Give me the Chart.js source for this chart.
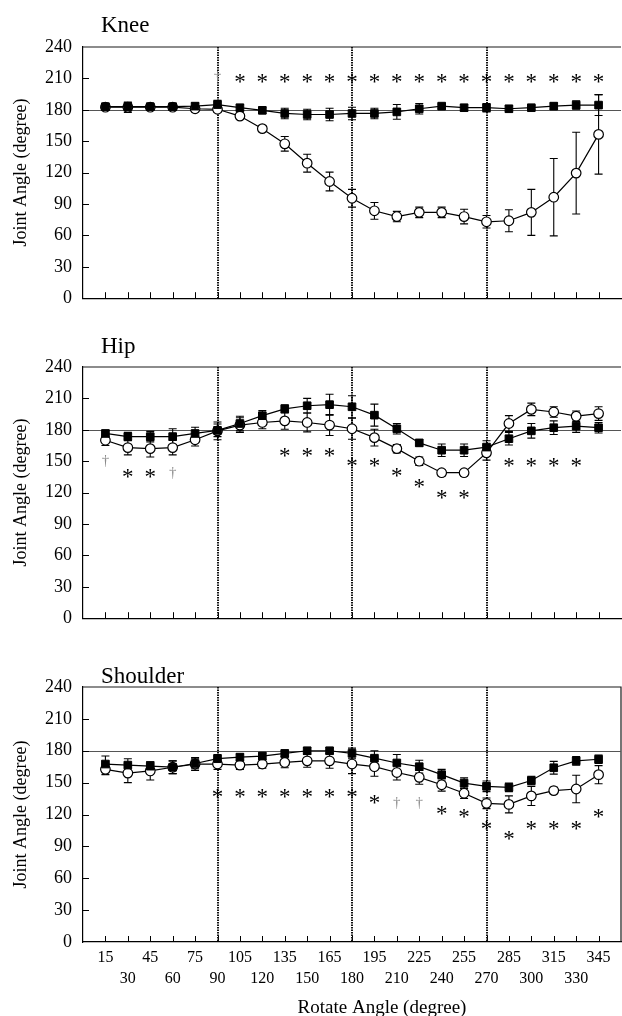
<!DOCTYPE html>
<html>
<head>
<meta charset="utf-8">
<script src="https://cdn.jsdelivr.net/npm/chart.js@4/dist/chart.umd.min.js"></script>
<style>
  html, body { margin: 0; padding: 0; background: #fff; overflow: hidden; }
  canvas { position: absolute; left: 0; display: block; }
</style>
</head>
<body>
<canvas id="knee" width="622" height="320" style="top:0px"></canvas>
<canvas id="hip" width="622" height="320" style="top:320px"></canvas>
<canvas id="shoulder" width="622" height="376" style="top:640px"></canvas>
<script>
// Rotation angles (degree) at which joint angles were sampled
const angles = [15, 30, 45, 60, 75, 90, 105, 120, 135, 150, 165, 180, 195, 210, 225, 240, 255, 270, 285, 300, 315, 330, 345];
const yTickValues = [0, 30, 60, 90, 120, 150, 180, 210, 240];
const phaseLines = [90, 180, 270];
const neutralAngle = 180;

// Knee: filled squares / open circles, mean and SD
const kneeSquare   = [183, 183, 183, 183, 183.5, 185, 182, 179.5, 176.5, 175.5, 175.5, 176.5, 176.5, 178, 181, 183.5, 182, 182, 181, 182, 183.5, 184.5, 184.5];
const kneeSquareSD = [3, 4, 3, 3, 3, 4, 3, 3, 5, 5, 6, 6, 5, 7, 5, 2, 3, 4, 3, 2, 3, 4, 10];
const kneeCircle   = [182.5, 182.5, 182.5, 182.5, 181, 180.5, 174, 162, 147.5, 129, 111.5, 95.5, 83.5, 78, 82, 82, 78, 73, 74, 82, 96.5, 119.5, 156.5];
const kneeCircleSD = [3, 5, 3, 3, 3, 3, 3, 3, 7, 8.5, 9, 8.5, 8, 5, 5, 5, 7, 6, 10.5, 22, 37, 39, 38];
const kneeMarks = [
  [90, 211, '†'], [105, 210, '*'], [120, 210, '*'], [135, 210, '*'], [150, 210, '*'], [165, 210, '*'],
  [180, 210, '*'], [195, 210, '*'], [210, 210, '*'], [225, 210, '*'], [240, 210, '*'], [255, 210, '*'],
  [270, 210, '*'], [285, 210, '*'], [300, 210, '*'], [315, 210, '*'], [330, 210, '*'], [345, 210, '*']
];

// Hip
const hipSquare   = [176.5, 173.5, 173.5, 173.5, 176.5, 179.5, 186, 193.5, 200, 203, 204, 202, 194, 181, 167.5, 160.5, 160.5, 163.5, 171.5, 179, 182, 183.5, 182];
const hipSquareSD = [3, 4, 5, 7.5, 6, 6, 7, 5, 4, 7, 10, 10.5, 10.5, 5, 3, 6, 6, 6, 6, 7, 6.5, 6, 5];
const hipCircle   = [170, 163, 162, 163, 170.5, 179, 184.5, 187, 188.5, 187, 184.5, 181, 172.5, 162, 150, 139, 139, 158, 186, 199.5, 197, 193, 195.5];
const hipCircleSD = [5, 7, 8, 7, 6, 8.5, 7, 6, 8, 9, 10, 10, 8, 4, 4, 3, 3, 7, 7.5, 6, 5, 5, 6.5];
const hipMarks = [
  [15, 150.5, '†'], [30, 138.5, '*'], [45, 138.5, '*'], [60, 139, '†'],
  [135, 158.5, '*'], [150, 158.5, '*'], [165, 158.5, '*'],
  [180, 148.5, '*'], [195, 148.5, '*'], [210, 139, '*'], [225, 128.5, '*'],
  [240, 118, '*'], [255, 118, '*'],
  [285, 148.5, '*'], [300, 148.5, '*'], [315, 148.5, '*'], [330, 148.5, '*']
];

// Shoulder
const shoulderSquare   = [167.5, 166.5, 165.5, 164.5, 168, 172.5, 174, 175, 177.5, 180, 180, 177.5, 173, 168.5, 165, 157.5, 149.5, 146.5, 145.5, 152, 164, 170.5, 172];
const shoulderSquareSD = [7.5, 6, 4, 6, 5, 4, 3, 3, 3, 3, 3, 5, 7, 8, 6, 5, 5, 5, 4, 4, 6, 4, 4];
const shoulderCircle   = [162.5, 159, 161, 164.5, 167.5, 167.5, 166.5, 167.5, 169, 170.5, 170.5, 167.5, 165, 159.5, 155, 148, 140, 130.5, 129.5, 137.5, 142.5, 144, 157.5];
const shoulderCircleSD = [5, 9, 8.5, 6, 6, 5, 4, 4, 5, 6, 7, 9, 9, 7, 6.5, 6, 5, 5, 8, 9, 3, 13, 8.5];
const shoulderMarks = [
  [90, 139.5, '*'], [105, 139.5, '*'], [120, 139.5, '*'], [135, 139.5, '*'], [150, 139.5, '*'],
  [165, 139.5, '*'], [180, 139.5, '*'], [195, 134, '*'], [210, 131, '†'], [225, 131, '†'],
  [240, 123.5, '*'], [255, 120.5, '*'], [270, 109.5, '*'], [285, 100, '*'],
  [300, 109.5, '*'], [315, 109.5, '*'], [330, 109.5, '*'], [345, 120.5, '*']
];

const SERIF = "'Liberation Serif', 'Times New Roman', Times, serif";

// Frame, reference lines, inward ticks, error bars, significance marks and titles
const panelDecor = {
  id: 'panelDecor',
  beforeDatasetsDraw(chart, args, opts) {
    const { ctx, chartArea: a, scales: { x, y } } = chart;
    ctx.save();
    // top (and optional right) frame
    ctx.strokeStyle = '#1a1a1a';
    ctx.lineWidth = 1.2;
    ctx.beginPath();
    ctx.moveTo(a.left, a.top);
    ctx.lineTo(a.right, a.top);
    if (opts.rightBorder) ctx.lineTo(a.right, a.bottom);
    ctx.stroke();

    // neutral angle reference line
    const py180 = Math.round(y.getPixelForValue(neutralAngle)) + 0.5;
    ctx.strokeStyle = '#555';
    ctx.lineWidth = 1;
    ctx.beginPath();
    ctx.moveTo(a.left, py180);
    ctx.lineTo(a.right, py180);
    ctx.stroke();

    // inward ticks
    ctx.strokeStyle = '#000';
    ctx.lineWidth = 1;
    ctx.beginPath();
    yTickValues.forEach(v => {
      if (v <= 0 || v >= 240) return;
      const py = Math.round(y.getPixelForValue(v)) + 0.5;
      ctx.moveTo(a.left, py);
      ctx.lineTo(a.left + 6, py);
    });
    angles.forEach(v => {
      const px = Math.round(x.getPixelForValue(v)) + 0.5;
      ctx.moveTo(px, a.bottom);
      ctx.lineTo(px, a.bottom - 6);
    });
    ctx.stroke();

    // dotted phase lines
    ctx.strokeStyle = '#111';
    ctx.lineWidth = 2;
    ctx.setLineDash([1.5, 1]);
    phaseLines.forEach(v => {
      const px = Math.round(x.getPixelForValue(v));
      ctx.beginPath();
      ctx.moveTo(px, a.top);
      ctx.lineTo(px, a.bottom);
      ctx.stroke();
    });
    ctx.setLineDash([]);

    // error bars
    ctx.strokeStyle = '#000';
    ctx.lineWidth = 1.1;
    chart.data.datasets.forEach(ds => {
      ds.data.forEach((pt, i) => {
        const e = ds.errors[i];
        const px = x.getPixelForValue(pt.x);
        const t = y.getPixelForValue(pt.y + e);
        const b = y.getPixelForValue(pt.y - e);
        ctx.beginPath();
        ctx.moveTo(px, t); ctx.lineTo(px, b);
        ctx.moveTo(px - 4, t); ctx.lineTo(px + 4, t);
        ctx.moveTo(px - 4, b); ctx.lineTo(px + 4, b);
        ctx.stroke();
      });
    });
    ctx.restore();
  },
  afterDraw(chart, args, opts) {
    const { ctx, chartArea: a, scales: { x, y } } = chart;
    ctx.save();
    ctx.textAlign = 'center';
    ctx.textBaseline = 'alphabetic';
    (opts.marks || []).forEach(([ang, lvl, sym]) => {
      const dagger = sym === '†';
      ctx.font = dagger ? `15px ${SERIF}` : `23px ${SERIF}`;
      ctx.fillStyle = dagger ? '#8a8a8a' : '#000';
      const m = ctx.measureText(sym);
      const dy = (m.actualBoundingBoxAscent - m.actualBoundingBoxDescent) / 2;
      ctx.fillText(sym, x.getPixelForValue(ang), y.getPixelForValue(lvl) + dy);
    });

    // panel title
    ctx.textAlign = 'left';
    ctx.fillStyle = '#000';
    ctx.font = `23px ${SERIF}`;
    ctx.fillText(opts.title, a.left + 18, a.top - opts.titleGap);

    // horizontal axis title
    if (opts.xTitle) {
      ctx.textAlign = 'center';
      ctx.textBaseline = 'middle';
      ctx.font = `19px ${SERIF}`;
      ctx.fillText(opts.xTitle, (a.left + a.right) / 2 + 30, chart.height - 8);
    }
    ctx.restore();
  }
};

function xyPairs(values) {
  return values.map((v, i) => ({ x: angles[i], y: v }));
}

function makePanel(id, title, titleGap, sq, sqSD, ci, ciSD, marks, bottom) {
  const canvas = document.getElementById(id);
  const xAxisHeight = bottom ? 74 : 19;
  new Chart(canvas, {
    type: 'scatter',
    data: {
      datasets: [
        {
          data: xyPairs(sq), errors: sqSD, showLine: true,
          borderColor: '#000', borderWidth: 1.2,
          pointStyle: 'rect', pointRadius: 5.4, pointBackgroundColor: '#000',
          pointBorderColor: '#000', pointBorderWidth: 1
        },
        {
          data: xyPairs(ci), errors: ciSD, showLine: true,
          borderColor: '#000', borderWidth: 1.2,
          pointStyle: 'circle', pointRadius: 4.8, pointBackgroundColor: '#fff',
          pointBorderColor: '#000', pointBorderWidth: 1.2
        }
      ]
    },
    options: {
      responsive: false,
      animation: false,
      events: [],
      layout: { autoPadding: false, padding: { left: 0, right: 1, top: 47, bottom: 0 } },
      plugins: {
        legend: { display: false },
        tooltip: { enabled: false },
        panelDecor: {
          title, titleGap, marks,
          rightBorder: bottom,
          xTitle: bottom ? 'Rotate Angle (degree)' : null
        }
      },
      scales: {
        x: {
          type: 'linear', min: 0, max: 360,
          grid: { display: false, drawTicks: false },
          border: { display: true, color: '#000', width: 1.2 },
          ticks: {
            display: bottom,
            stepSize: 15,
            autoSkip: false,
            maxRotation: 0,
            minRotation: 0,
            padding: 5,
            color: '#000',
            font: { family: SERIF, size: 16, lineHeight: 1.3125 },
            callback: v => {
              if (!angles.includes(v)) return '';
              return (v / 15) % 2 === 1 ? [String(v), ''] : ['', String(v)];
            }
          },
          afterFit: s => {
            s.height = xAxisHeight;
            s.paddingLeft = 0;
            s.paddingRight = 0;
          }
        },
        y: {
          min: 0, max: 240,
          afterBuildTicks: s => { s.ticks = yTickValues.map(v => ({ value: v })); },
          grid: { display: false, drawTicks: false },
          border: { display: true, color: '#000', width: 1.2 },
          ticks: { padding: 11, color: '#000', font: { family: SERIF, size: 18 } },
          title: {
            display: true, text: 'Joint Angle (degree)', color: '#000',
            font: { family: SERIF, size: 18 }, padding: { top: 10, bottom: 0 }
          },
          afterFit: s => { s.width = 83; }
        }
      }
    },
    plugins: [panelDecor]
  });
}

makePanel('knee', 'Knee', 15, kneeSquare, kneeSquareSD, kneeCircle, kneeCircleSD, kneeMarks, false);
makePanel('hip', 'Hip', 14, hipSquare, hipSquareSD, hipCircle, hipCircleSD, hipMarks, false);
makePanel('shoulder', 'Shoulder', 4, shoulderSquare, shoulderSquareSD, shoulderCircle, shoulderCircleSD, shoulderMarks, true);
</script>
</body>
</html>
